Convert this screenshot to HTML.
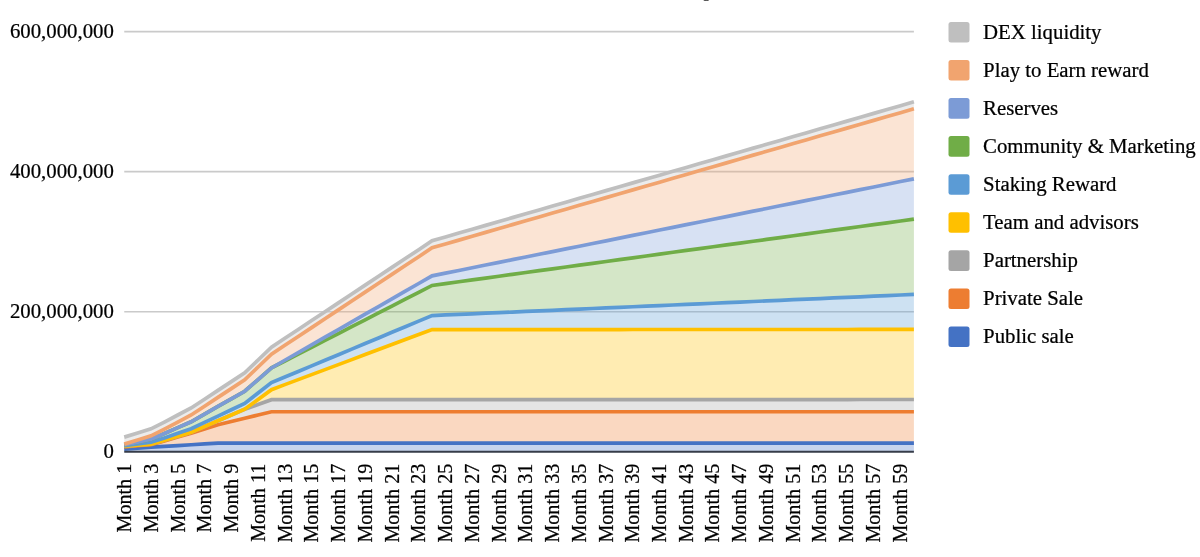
<!DOCTYPE html>
<html><head><meta charset="utf-8"><title>Token release schedule</title>
<style>
html,body{margin:0;padding:0;background:#fff;}
body{width:1200px;height:557px;overflow:hidden;}
svg{display:block;font-family:"Liberation Serif","Times New Roman",serif;font-size:20.8px;fill:#000;}
text{stroke:#000;stroke-width:0.24px;}
</style></head><body>
<svg width="1200" height="557" viewBox="0 0 1200 557">
<rect width="1200" height="557" fill="#fff"/>
<text x="710.4" y="-5.1" text-anchor="middle" font-size="29" font-weight="bold" fill="#666" stroke="none">y</text>
<line x1="124.25" x2="913.90" y1="311.75" y2="311.75" stroke="#cacaca" stroke-width="1.7"/>
<line x1="124.25" x2="913.90" y1="171.65" y2="171.65" stroke="#cacaca" stroke-width="1.7"/>
<line x1="124.25" x2="913.90" y1="31.55" y2="31.55" stroke="#cacaca" stroke-width="1.7"/>
<text x="113.9" y="458.10" text-anchor="end">0</text>
<text x="113.9" y="318.00" text-anchor="end">200,000,000</text>
<text x="113.9" y="177.90" text-anchor="end">400,000,000</text>
<text x="113.9" y="37.80" text-anchor="end">600,000,000</text>
<polygon points="124.25,449.25 137.63,448.20 151.02,447.15 164.40,446.35 177.79,445.55 191.17,444.75 204.55,443.95 217.94,443.15 231.32,443.15 244.71,443.15 258.09,443.15 271.47,443.15 284.86,443.15 298.24,443.15 311.62,443.15 325.01,443.15 338.39,443.15 351.78,443.15 365.16,443.15 378.54,443.15 391.93,443.15 405.31,443.15 418.70,443.15 432.08,443.15 445.46,443.15 458.85,443.15 472.23,443.15 485.62,443.15 499.00,443.15 512.38,443.15 525.77,443.15 539.15,443.15 552.53,443.15 565.92,443.15 579.30,443.15 592.69,443.15 606.07,443.15 619.45,443.15 632.84,443.15 646.22,443.15 659.61,443.15 672.99,443.15 686.37,443.15 699.76,443.15 713.14,443.15 726.53,443.15 739.91,443.15 753.29,443.15 766.68,443.15 780.06,443.15 793.44,443.15 806.83,443.15 820.21,443.15 833.60,443.15 846.98,443.15 860.36,443.15 873.75,443.15 887.13,443.15 900.52,443.15 913.90,443.15 913.90,452.05 900.52,452.05 887.13,452.05 873.75,452.05 860.36,452.05 846.98,452.05 833.60,452.05 820.21,452.05 806.83,452.05 793.44,452.05 780.06,452.05 766.68,452.05 753.29,452.05 739.91,452.05 726.53,452.05 713.14,452.05 699.76,452.05 686.37,452.05 672.99,452.05 659.61,452.05 646.22,452.05 632.84,452.05 619.45,452.05 606.07,452.05 592.69,452.05 579.30,452.05 565.92,452.05 552.53,452.05 539.15,452.05 525.77,452.05 512.38,452.05 499.00,452.05 485.62,452.05 472.23,452.05 458.85,452.05 445.46,452.05 432.08,452.05 418.70,452.05 405.31,452.05 391.93,452.05 378.54,452.05 365.16,452.05 351.78,452.05 338.39,452.05 325.01,452.05 311.62,452.05 298.24,452.05 284.86,452.05 271.47,452.05 258.09,452.05 244.71,452.05 231.32,452.05 217.94,452.05 204.55,452.05 191.17,452.05 177.79,452.05 164.40,452.05 151.02,452.05 137.63,452.05 124.25,452.05" fill="#4472C4" fill-opacity="0.3"/>
<polygon points="124.25,446.87 137.63,445.78 151.02,444.69 164.40,440.88 177.79,437.07 191.17,433.26 204.55,428.96 217.94,424.66 231.32,421.44 244.71,418.22 258.09,414.99 271.47,411.77 284.86,411.77 298.24,411.77 311.62,411.77 325.01,411.77 338.39,411.77 351.78,411.77 365.16,411.77 378.54,411.77 391.93,411.77 405.31,411.77 418.70,411.77 432.08,411.77 445.46,411.77 458.85,411.77 472.23,411.77 485.62,411.77 499.00,411.77 512.38,411.77 525.77,411.77 539.15,411.77 552.53,411.77 565.92,411.77 579.30,411.77 592.69,411.77 606.07,411.77 619.45,411.77 632.84,411.77 646.22,411.77 659.61,411.77 672.99,411.77 686.37,411.77 699.76,411.77 713.14,411.77 726.53,411.77 739.91,411.77 753.29,411.77 766.68,411.77 780.06,411.77 793.44,411.77 806.83,411.77 820.21,411.77 833.60,411.77 846.98,411.77 860.36,411.77 873.75,411.77 887.13,411.77 900.52,411.77 913.90,411.77 913.90,443.15 900.52,443.15 887.13,443.15 873.75,443.15 860.36,443.15 846.98,443.15 833.60,443.15 820.21,443.15 806.83,443.15 793.44,443.15 780.06,443.15 766.68,443.15 753.29,443.15 739.91,443.15 726.53,443.15 713.14,443.15 699.76,443.15 686.37,443.15 672.99,443.15 659.61,443.15 646.22,443.15 632.84,443.15 619.45,443.15 606.07,443.15 592.69,443.15 579.30,443.15 565.92,443.15 552.53,443.15 539.15,443.15 525.77,443.15 512.38,443.15 499.00,443.15 485.62,443.15 472.23,443.15 458.85,443.15 445.46,443.15 432.08,443.15 418.70,443.15 405.31,443.15 391.93,443.15 378.54,443.15 365.16,443.15 351.78,443.15 338.39,443.15 325.01,443.15 311.62,443.15 298.24,443.15 284.86,443.15 271.47,443.15 258.09,443.15 244.71,443.15 231.32,443.15 217.94,443.15 204.55,443.95 191.17,444.75 177.79,445.55 164.40,446.35 151.02,447.15 137.63,448.20 124.25,449.25" fill="#ED7D31" fill-opacity="0.3"/>
<polygon points="124.25,446.24 137.63,445.15 151.02,444.06 164.40,440.25 177.79,436.27 191.17,432.28 204.55,426.51 217.94,420.74 231.32,414.99 244.71,409.25 258.09,404.45 271.47,399.65 284.86,399.65 298.24,399.65 311.62,399.64 325.01,399.64 338.39,399.64 351.78,399.64 365.16,399.63 378.54,399.63 391.93,399.63 405.31,399.62 418.70,399.62 432.08,399.62 445.46,399.61 458.85,399.61 472.23,399.61 485.62,399.61 499.00,399.60 512.38,399.60 525.77,399.60 539.15,399.59 552.53,399.59 565.92,399.59 579.30,399.59 592.69,399.58 606.07,399.58 619.45,399.58 632.84,399.57 646.22,399.57 659.61,399.57 672.99,399.57 686.37,399.56 699.76,399.56 713.14,399.56 726.53,399.55 739.91,399.55 753.29,399.55 766.68,399.54 780.06,399.54 793.44,399.54 806.83,399.54 820.21,399.53 833.60,399.53 846.98,399.53 860.36,399.52 873.75,399.52 887.13,399.52 900.52,399.52 913.90,399.51 913.90,411.77 900.52,411.77 887.13,411.77 873.75,411.77 860.36,411.77 846.98,411.77 833.60,411.77 820.21,411.77 806.83,411.77 793.44,411.77 780.06,411.77 766.68,411.77 753.29,411.77 739.91,411.77 726.53,411.77 713.14,411.77 699.76,411.77 686.37,411.77 672.99,411.77 659.61,411.77 646.22,411.77 632.84,411.77 619.45,411.77 606.07,411.77 592.69,411.77 579.30,411.77 565.92,411.77 552.53,411.77 539.15,411.77 525.77,411.77 512.38,411.77 499.00,411.77 485.62,411.77 472.23,411.77 458.85,411.77 445.46,411.77 432.08,411.77 418.70,411.77 405.31,411.77 391.93,411.77 378.54,411.77 365.16,411.77 351.78,411.77 338.39,411.77 325.01,411.77 311.62,411.77 298.24,411.77 284.86,411.77 271.47,411.77 258.09,414.99 244.71,418.22 231.32,421.44 217.94,424.66 204.55,428.96 191.17,433.26 177.79,437.07 164.40,440.88 151.02,444.69 137.63,445.78 124.25,446.87" fill="#A5A5A5" fill-opacity="0.3"/>
<polygon points="124.25,446.24 137.63,445.15 151.02,444.06 164.40,440.25 177.79,436.27 191.17,432.28 204.55,426.51 217.94,420.74 231.32,414.99 244.71,409.25 258.09,399.45 271.47,389.65 284.86,384.64 298.24,379.63 311.62,374.63 325.01,369.62 338.39,364.61 351.78,359.61 365.16,354.60 378.54,349.59 391.93,344.59 405.31,339.58 418.70,334.57 432.08,329.57 445.46,329.56 458.85,329.56 472.23,329.56 485.62,329.56 499.00,329.55 512.38,329.55 525.77,329.55 539.15,329.54 552.53,329.54 565.92,329.54 579.30,329.54 592.69,329.53 606.07,329.53 619.45,329.53 632.84,329.52 646.22,329.52 659.61,329.52 672.99,329.52 686.37,329.51 699.76,329.51 713.14,329.51 726.53,329.50 739.91,329.50 753.29,329.50 766.68,329.49 780.06,329.49 793.44,329.49 806.83,329.49 820.21,329.48 833.60,329.48 846.98,329.48 860.36,329.47 873.75,329.47 887.13,329.47 900.52,329.47 913.90,329.46 913.90,399.51 900.52,399.52 887.13,399.52 873.75,399.52 860.36,399.52 846.98,399.53 833.60,399.53 820.21,399.53 806.83,399.54 793.44,399.54 780.06,399.54 766.68,399.54 753.29,399.55 739.91,399.55 726.53,399.55 713.14,399.56 699.76,399.56 686.37,399.56 672.99,399.57 659.61,399.57 646.22,399.57 632.84,399.57 619.45,399.58 606.07,399.58 592.69,399.58 579.30,399.59 565.92,399.59 552.53,399.59 539.15,399.59 525.77,399.60 512.38,399.60 499.00,399.60 485.62,399.61 472.23,399.61 458.85,399.61 445.46,399.61 432.08,399.62 418.70,399.62 405.31,399.62 391.93,399.63 378.54,399.63 365.16,399.63 351.78,399.64 338.39,399.64 325.01,399.64 311.62,399.64 298.24,399.65 284.86,399.65 271.47,399.65 258.09,404.45 244.71,409.25 231.32,414.99 217.94,420.74 204.55,426.51 191.17,432.28 177.79,436.27 164.40,440.25 151.02,444.06 137.63,445.15 124.25,446.24" fill="#FFC000" fill-opacity="0.3"/>
<polygon points="124.25,445.65 137.63,443.98 151.02,442.31 164.40,437.92 177.79,433.35 191.17,428.78 204.55,422.42 217.94,416.07 231.32,409.74 244.71,403.41 258.09,393.03 271.47,382.64 284.86,377.05 298.24,371.46 311.62,365.87 325.01,360.28 338.39,354.69 351.78,349.10 365.16,343.51 378.54,337.92 391.93,332.33 405.31,326.74 418.70,321.15 432.08,315.56 445.46,314.97 458.85,314.38 472.23,313.80 485.62,313.21 499.00,312.62 512.38,312.04 525.77,311.45 539.15,310.86 552.53,310.28 565.92,309.69 579.30,309.10 592.69,308.52 606.07,307.93 619.45,307.34 632.84,306.76 646.22,306.17 659.61,305.58 672.99,305.00 686.37,304.41 699.76,303.82 713.14,303.24 726.53,302.65 739.91,302.06 753.29,301.48 766.68,300.89 780.06,300.30 793.44,299.72 806.83,299.13 820.21,298.54 833.60,297.96 846.98,297.37 860.36,296.78 873.75,296.20 887.13,295.61 900.52,295.02 913.90,294.44 913.90,329.46 900.52,329.47 887.13,329.47 873.75,329.47 860.36,329.47 846.98,329.48 833.60,329.48 820.21,329.48 806.83,329.49 793.44,329.49 780.06,329.49 766.68,329.49 753.29,329.50 739.91,329.50 726.53,329.50 713.14,329.51 699.76,329.51 686.37,329.51 672.99,329.52 659.61,329.52 646.22,329.52 632.84,329.52 619.45,329.53 606.07,329.53 592.69,329.53 579.30,329.54 565.92,329.54 552.53,329.54 539.15,329.54 525.77,329.55 512.38,329.55 499.00,329.55 485.62,329.56 472.23,329.56 458.85,329.56 445.46,329.56 432.08,329.57 418.70,334.57 405.31,339.58 391.93,344.59 378.54,349.59 365.16,354.60 351.78,359.61 338.39,364.61 325.01,369.62 311.62,374.63 298.24,379.63 284.86,384.64 271.47,389.65 258.09,399.45 244.71,409.25 231.32,414.99 217.94,420.74 204.55,426.51 191.17,432.28 177.79,436.27 164.40,440.25 151.02,444.06 137.63,445.15 124.25,446.24" fill="#5B9BD5" fill-opacity="0.3"/>
<polygon points="124.25,445.02 137.63,442.07 151.02,439.12 164.40,433.44 177.79,427.59 191.17,421.74 204.55,414.10 217.94,406.46 231.32,398.85 244.71,391.24 258.09,379.57 271.47,367.91 284.86,361.03 298.24,354.16 311.62,347.29 325.01,340.42 338.39,333.54 351.78,326.67 365.16,319.80 378.54,312.93 391.93,306.05 405.31,299.18 418.70,292.31 432.08,285.44 445.46,283.59 458.85,281.75 472.23,279.91 485.62,278.07 499.00,276.23 512.38,274.39 525.77,272.54 539.15,270.70 552.53,268.86 565.92,267.02 579.30,265.18 592.69,263.34 606.07,261.49 619.45,259.65 632.84,257.81 646.22,255.97 659.61,254.13 672.99,252.28 686.37,250.44 699.76,248.60 713.14,246.76 726.53,244.92 739.91,243.08 753.29,241.23 766.68,239.39 780.06,237.55 793.44,235.71 806.83,233.87 820.21,232.03 833.60,230.18 846.98,228.34 860.36,226.50 873.75,224.66 887.13,222.82 900.52,220.98 913.90,219.13 913.90,294.44 900.52,295.02 887.13,295.61 873.75,296.20 860.36,296.78 846.98,297.37 833.60,297.96 820.21,298.54 806.83,299.13 793.44,299.72 780.06,300.30 766.68,300.89 753.29,301.48 739.91,302.06 726.53,302.65 713.14,303.24 699.76,303.82 686.37,304.41 672.99,305.00 659.61,305.58 646.22,306.17 632.84,306.76 619.45,307.34 606.07,307.93 592.69,308.52 579.30,309.10 565.92,309.69 552.53,310.28 539.15,310.86 525.77,311.45 512.38,312.04 499.00,312.62 485.62,313.21 472.23,313.80 458.85,314.38 445.46,314.97 432.08,315.56 418.70,321.15 405.31,326.74 391.93,332.33 378.54,337.92 365.16,343.51 351.78,349.10 338.39,354.69 325.01,360.28 311.62,365.87 298.24,371.46 284.86,377.05 271.47,382.64 258.09,393.03 244.71,403.41 231.32,409.74 217.94,416.07 204.55,422.42 191.17,428.78 177.79,433.35 164.40,437.92 151.02,442.31 137.63,443.98 124.25,445.65" fill="#70AD47" fill-opacity="0.3"/>
<polygon points="124.25,445.02 137.63,442.07 151.02,439.12 164.40,433.44 177.79,427.59 191.17,421.74 204.55,414.10 217.94,406.46 231.32,398.85 244.71,391.24 258.09,379.57 271.47,367.91 284.86,360.23 298.24,352.56 311.62,344.89 325.01,337.22 338.39,329.54 351.78,321.87 365.16,314.20 378.54,306.53 391.93,298.86 405.31,291.18 418.70,283.51 432.08,275.84 445.46,273.15 458.85,270.45 472.23,267.76 485.62,265.06 499.00,262.37 512.38,259.68 525.77,256.98 539.15,254.29 552.53,251.59 565.92,248.90 579.30,246.21 592.69,243.51 606.07,240.82 619.45,238.12 632.84,235.43 646.22,232.74 659.61,230.04 672.99,227.35 686.37,224.65 699.76,221.96 713.14,219.27 726.53,216.57 739.91,213.88 753.29,211.18 766.68,208.49 780.06,205.80 793.44,203.10 806.83,200.41 820.21,197.71 833.60,195.02 846.98,192.33 860.36,189.63 873.75,186.94 887.13,184.24 900.52,181.55 913.90,178.86 913.90,219.13 900.52,220.98 887.13,222.82 873.75,224.66 860.36,226.50 846.98,228.34 833.60,230.18 820.21,232.03 806.83,233.87 793.44,235.71 780.06,237.55 766.68,239.39 753.29,241.23 739.91,243.08 726.53,244.92 713.14,246.76 699.76,248.60 686.37,250.44 672.99,252.28 659.61,254.13 646.22,255.97 632.84,257.81 619.45,259.65 606.07,261.49 592.69,263.34 579.30,265.18 565.92,267.02 552.53,268.86 539.15,270.70 525.77,272.54 512.38,274.39 499.00,276.23 485.62,278.07 472.23,279.91 458.85,281.75 445.46,283.59 432.08,285.44 418.70,292.31 405.31,299.18 391.93,306.05 378.54,312.93 365.16,319.80 351.78,326.67 338.39,333.54 325.01,340.42 311.62,347.29 298.24,354.16 284.86,361.03 271.47,367.91 258.09,379.57 244.71,391.24 231.32,398.85 217.94,406.46 204.55,414.10 191.17,421.74 177.79,427.59 164.40,433.44 151.02,439.12 137.63,442.07 124.25,445.02" fill="#7C9BD6" fill-opacity="0.3"/>
<polygon points="124.25,444.11 137.63,439.99 151.02,435.88 164.40,429.03 177.79,422.02 191.17,415.00 204.55,406.20 217.94,397.39 231.32,388.62 244.71,379.84 258.09,367.01 271.47,354.18 284.86,345.31 298.24,336.45 311.62,327.59 325.01,318.72 338.39,309.86 351.78,301.00 365.16,292.13 378.54,283.27 391.93,274.41 405.31,265.55 418.70,256.68 432.08,247.82 445.46,243.96 458.85,240.10 472.23,236.23 485.62,232.37 499.00,228.51 512.38,224.65 525.77,220.79 539.15,216.93 552.53,213.07 565.92,209.20 579.30,205.34 592.69,201.48 606.07,197.62 619.45,193.76 632.84,189.90 646.22,186.04 659.61,182.17 672.99,178.31 686.37,174.45 699.76,170.59 713.14,166.73 726.53,162.87 739.91,159.00 753.29,155.14 766.68,151.28 780.06,147.42 793.44,143.56 806.83,139.70 820.21,135.84 833.60,131.97 846.98,128.11 860.36,124.25 873.75,120.39 887.13,116.53 900.52,112.67 913.90,108.81 913.90,178.86 900.52,181.55 887.13,184.24 873.75,186.94 860.36,189.63 846.98,192.33 833.60,195.02 820.21,197.71 806.83,200.41 793.44,203.10 780.06,205.80 766.68,208.49 753.29,211.18 739.91,213.88 726.53,216.57 713.14,219.27 699.76,221.96 686.37,224.65 672.99,227.35 659.61,230.04 646.22,232.74 632.84,235.43 619.45,238.12 606.07,240.82 592.69,243.51 579.30,246.21 565.92,248.90 552.53,251.59 539.15,254.29 525.77,256.98 512.38,259.68 499.00,262.37 485.62,265.06 472.23,267.76 458.85,270.45 445.46,273.15 432.08,275.84 418.70,283.51 405.31,291.18 391.93,298.86 378.54,306.53 365.16,314.20 351.78,321.87 338.39,329.54 325.01,337.22 311.62,344.89 298.24,352.56 284.86,360.23 271.47,367.91 258.09,379.57 244.71,391.24 231.32,398.85 217.94,406.46 204.55,414.10 191.17,421.74 177.79,427.59 164.40,433.44 151.02,439.12 137.63,442.07 124.25,445.02" fill="#F1A46F" fill-opacity="0.3"/>
<polygon points="124.25,437.11 137.63,432.99 151.02,428.87 164.40,422.03 177.79,415.01 191.17,408.00 204.55,399.19 217.94,390.39 231.32,381.61 244.71,372.84 258.09,360.00 271.47,347.17 284.86,338.31 298.24,329.44 311.62,320.58 325.01,311.72 338.39,302.86 351.78,293.99 365.16,285.13 378.54,276.27 391.93,267.40 405.31,258.54 418.70,249.68 432.08,240.81 445.46,236.95 458.85,233.09 472.23,229.23 485.62,225.37 499.00,221.51 512.38,217.65 525.77,213.78 539.15,209.92 552.53,206.06 565.92,202.20 579.30,198.34 592.69,194.48 606.07,190.61 619.45,186.75 632.84,182.89 646.22,179.03 659.61,175.17 672.99,171.31 686.37,167.45 699.76,163.58 713.14,159.72 726.53,155.86 739.91,152.00 753.29,148.14 766.68,144.28 780.06,140.42 793.44,136.55 806.83,132.69 820.21,128.83 833.60,124.97 846.98,121.11 860.36,117.25 873.75,113.38 887.13,109.52 900.52,105.66 913.90,101.80 913.90,108.81 900.52,112.67 887.13,116.53 873.75,120.39 860.36,124.25 846.98,128.11 833.60,131.97 820.21,135.84 806.83,139.70 793.44,143.56 780.06,147.42 766.68,151.28 753.29,155.14 739.91,159.00 726.53,162.87 713.14,166.73 699.76,170.59 686.37,174.45 672.99,178.31 659.61,182.17 646.22,186.04 632.84,189.90 619.45,193.76 606.07,197.62 592.69,201.48 579.30,205.34 565.92,209.20 552.53,213.07 539.15,216.93 525.77,220.79 512.38,224.65 499.00,228.51 485.62,232.37 472.23,236.23 458.85,240.10 445.46,243.96 432.08,247.82 418.70,256.68 405.31,265.55 391.93,274.41 378.54,283.27 365.16,292.13 351.78,301.00 338.39,309.86 325.01,318.72 311.62,327.59 298.24,336.45 284.86,345.31 271.47,354.18 258.09,367.01 244.71,379.84 231.32,388.62 217.94,397.39 204.55,406.20 191.17,415.00 177.79,422.02 164.40,429.03 151.02,435.88 137.63,439.99 124.25,444.11" fill="#BFBFBF" fill-opacity="0.3"/>
<polyline points="124.25,449.25 137.63,448.20 151.02,447.15 164.40,446.35 177.79,445.55 191.17,444.75 204.55,443.95 217.94,443.15 231.32,443.15 244.71,443.15 258.09,443.15 271.47,443.15 284.86,443.15 298.24,443.15 311.62,443.15 325.01,443.15 338.39,443.15 351.78,443.15 365.16,443.15 378.54,443.15 391.93,443.15 405.31,443.15 418.70,443.15 432.08,443.15 445.46,443.15 458.85,443.15 472.23,443.15 485.62,443.15 499.00,443.15 512.38,443.15 525.77,443.15 539.15,443.15 552.53,443.15 565.92,443.15 579.30,443.15 592.69,443.15 606.07,443.15 619.45,443.15 632.84,443.15 646.22,443.15 659.61,443.15 672.99,443.15 686.37,443.15 699.76,443.15 713.14,443.15 726.53,443.15 739.91,443.15 753.29,443.15 766.68,443.15 780.06,443.15 793.44,443.15 806.83,443.15 820.21,443.15 833.60,443.15 846.98,443.15 860.36,443.15 873.75,443.15 887.13,443.15 900.52,443.15 913.90,443.15" fill="none" stroke="#4472C4" stroke-width="3.7" stroke-linejoin="miter"/>
<polyline points="124.25,446.87 137.63,445.78 151.02,444.69 164.40,440.88 177.79,437.07 191.17,433.26 204.55,428.96 217.94,424.66 231.32,421.44 244.71,418.22 258.09,414.99 271.47,411.77 284.86,411.77 298.24,411.77 311.62,411.77 325.01,411.77 338.39,411.77 351.78,411.77 365.16,411.77 378.54,411.77 391.93,411.77 405.31,411.77 418.70,411.77 432.08,411.77 445.46,411.77 458.85,411.77 472.23,411.77 485.62,411.77 499.00,411.77 512.38,411.77 525.77,411.77 539.15,411.77 552.53,411.77 565.92,411.77 579.30,411.77 592.69,411.77 606.07,411.77 619.45,411.77 632.84,411.77 646.22,411.77 659.61,411.77 672.99,411.77 686.37,411.77 699.76,411.77 713.14,411.77 726.53,411.77 739.91,411.77 753.29,411.77 766.68,411.77 780.06,411.77 793.44,411.77 806.83,411.77 820.21,411.77 833.60,411.77 846.98,411.77 860.36,411.77 873.75,411.77 887.13,411.77 900.52,411.77 913.90,411.77" fill="none" stroke="#ED7D31" stroke-width="3.7" stroke-linejoin="miter"/>
<polyline points="124.25,446.24 137.63,445.15 151.02,444.06 164.40,440.25 177.79,436.27 191.17,432.28 204.55,426.51 217.94,420.74 231.32,414.99 244.71,409.25 258.09,404.45 271.47,399.65 284.86,399.65 298.24,399.65 311.62,399.64 325.01,399.64 338.39,399.64 351.78,399.64 365.16,399.63 378.54,399.63 391.93,399.63 405.31,399.62 418.70,399.62 432.08,399.62 445.46,399.61 458.85,399.61 472.23,399.61 485.62,399.61 499.00,399.60 512.38,399.60 525.77,399.60 539.15,399.59 552.53,399.59 565.92,399.59 579.30,399.59 592.69,399.58 606.07,399.58 619.45,399.58 632.84,399.57 646.22,399.57 659.61,399.57 672.99,399.57 686.37,399.56 699.76,399.56 713.14,399.56 726.53,399.55 739.91,399.55 753.29,399.55 766.68,399.54 780.06,399.54 793.44,399.54 806.83,399.54 820.21,399.53 833.60,399.53 846.98,399.53 860.36,399.52 873.75,399.52 887.13,399.52 900.52,399.52 913.90,399.51" fill="none" stroke="#A5A5A5" stroke-width="3.7" stroke-linejoin="miter"/>
<polyline points="124.25,446.24 137.63,445.15 151.02,444.06 164.40,440.25 177.79,436.27 191.17,432.28 204.55,426.51 217.94,420.74 231.32,414.99 244.71,409.25 258.09,399.45 271.47,389.65 284.86,384.64 298.24,379.63 311.62,374.63 325.01,369.62 338.39,364.61 351.78,359.61 365.16,354.60 378.54,349.59 391.93,344.59 405.31,339.58 418.70,334.57 432.08,329.57 445.46,329.56 458.85,329.56 472.23,329.56 485.62,329.56 499.00,329.55 512.38,329.55 525.77,329.55 539.15,329.54 552.53,329.54 565.92,329.54 579.30,329.54 592.69,329.53 606.07,329.53 619.45,329.53 632.84,329.52 646.22,329.52 659.61,329.52 672.99,329.52 686.37,329.51 699.76,329.51 713.14,329.51 726.53,329.50 739.91,329.50 753.29,329.50 766.68,329.49 780.06,329.49 793.44,329.49 806.83,329.49 820.21,329.48 833.60,329.48 846.98,329.48 860.36,329.47 873.75,329.47 887.13,329.47 900.52,329.47 913.90,329.46" fill="none" stroke="#FFC000" stroke-width="3.7" stroke-linejoin="miter"/>
<polyline points="124.25,445.65 137.63,443.98 151.02,442.31 164.40,437.92 177.79,433.35 191.17,428.78 204.55,422.42 217.94,416.07 231.32,409.74 244.71,403.41 258.09,393.03 271.47,382.64 284.86,377.05 298.24,371.46 311.62,365.87 325.01,360.28 338.39,354.69 351.78,349.10 365.16,343.51 378.54,337.92 391.93,332.33 405.31,326.74 418.70,321.15 432.08,315.56 445.46,314.97 458.85,314.38 472.23,313.80 485.62,313.21 499.00,312.62 512.38,312.04 525.77,311.45 539.15,310.86 552.53,310.28 565.92,309.69 579.30,309.10 592.69,308.52 606.07,307.93 619.45,307.34 632.84,306.76 646.22,306.17 659.61,305.58 672.99,305.00 686.37,304.41 699.76,303.82 713.14,303.24 726.53,302.65 739.91,302.06 753.29,301.48 766.68,300.89 780.06,300.30 793.44,299.72 806.83,299.13 820.21,298.54 833.60,297.96 846.98,297.37 860.36,296.78 873.75,296.20 887.13,295.61 900.52,295.02 913.90,294.44" fill="none" stroke="#5B9BD5" stroke-width="3.7" stroke-linejoin="miter"/>
<polyline points="124.25,445.02 137.63,442.07 151.02,439.12 164.40,433.44 177.79,427.59 191.17,421.74 204.55,414.10 217.94,406.46 231.32,398.85 244.71,391.24 258.09,379.57 271.47,367.91 284.86,361.03 298.24,354.16 311.62,347.29 325.01,340.42 338.39,333.54 351.78,326.67 365.16,319.80 378.54,312.93 391.93,306.05 405.31,299.18 418.70,292.31 432.08,285.44 445.46,283.59 458.85,281.75 472.23,279.91 485.62,278.07 499.00,276.23 512.38,274.39 525.77,272.54 539.15,270.70 552.53,268.86 565.92,267.02 579.30,265.18 592.69,263.34 606.07,261.49 619.45,259.65 632.84,257.81 646.22,255.97 659.61,254.13 672.99,252.28 686.37,250.44 699.76,248.60 713.14,246.76 726.53,244.92 739.91,243.08 753.29,241.23 766.68,239.39 780.06,237.55 793.44,235.71 806.83,233.87 820.21,232.03 833.60,230.18 846.98,228.34 860.36,226.50 873.75,224.66 887.13,222.82 900.52,220.98 913.90,219.13" fill="none" stroke="#70AD47" stroke-width="3.7" stroke-linejoin="miter"/>
<polyline points="124.25,445.02 137.63,442.07 151.02,439.12 164.40,433.44 177.79,427.59 191.17,421.74 204.55,414.10 217.94,406.46 231.32,398.85 244.71,391.24 258.09,379.57 271.47,367.91 284.86,360.23 298.24,352.56 311.62,344.89 325.01,337.22 338.39,329.54 351.78,321.87 365.16,314.20 378.54,306.53 391.93,298.86 405.31,291.18 418.70,283.51 432.08,275.84 445.46,273.15 458.85,270.45 472.23,267.76 485.62,265.06 499.00,262.37 512.38,259.68 525.77,256.98 539.15,254.29 552.53,251.59 565.92,248.90 579.30,246.21 592.69,243.51 606.07,240.82 619.45,238.12 632.84,235.43 646.22,232.74 659.61,230.04 672.99,227.35 686.37,224.65 699.76,221.96 713.14,219.27 726.53,216.57 739.91,213.88 753.29,211.18 766.68,208.49 780.06,205.80 793.44,203.10 806.83,200.41 820.21,197.71 833.60,195.02 846.98,192.33 860.36,189.63 873.75,186.94 887.13,184.24 900.52,181.55 913.90,178.86" fill="none" stroke="#7C9BD6" stroke-width="3.7" stroke-linejoin="miter"/>
<polyline points="124.25,444.11 137.63,439.99 151.02,435.88 164.40,429.03 177.79,422.02 191.17,415.00 204.55,406.20 217.94,397.39 231.32,388.62 244.71,379.84 258.09,367.01 271.47,354.18 284.86,345.31 298.24,336.45 311.62,327.59 325.01,318.72 338.39,309.86 351.78,301.00 365.16,292.13 378.54,283.27 391.93,274.41 405.31,265.55 418.70,256.68 432.08,247.82 445.46,243.96 458.85,240.10 472.23,236.23 485.62,232.37 499.00,228.51 512.38,224.65 525.77,220.79 539.15,216.93 552.53,213.07 565.92,209.20 579.30,205.34 592.69,201.48 606.07,197.62 619.45,193.76 632.84,189.90 646.22,186.04 659.61,182.17 672.99,178.31 686.37,174.45 699.76,170.59 713.14,166.73 726.53,162.87 739.91,159.00 753.29,155.14 766.68,151.28 780.06,147.42 793.44,143.56 806.83,139.70 820.21,135.84 833.60,131.97 846.98,128.11 860.36,124.25 873.75,120.39 887.13,116.53 900.52,112.67 913.90,108.81" fill="none" stroke="#F1A46F" stroke-width="3.7" stroke-linejoin="miter"/>
<polyline points="124.25,437.11 137.63,432.99 151.02,428.87 164.40,422.03 177.79,415.01 191.17,408.00 204.55,399.19 217.94,390.39 231.32,381.61 244.71,372.84 258.09,360.00 271.47,347.17 284.86,338.31 298.24,329.44 311.62,320.58 325.01,311.72 338.39,302.86 351.78,293.99 365.16,285.13 378.54,276.27 391.93,267.40 405.31,258.54 418.70,249.68 432.08,240.81 445.46,236.95 458.85,233.09 472.23,229.23 485.62,225.37 499.00,221.51 512.38,217.65 525.77,213.78 539.15,209.92 552.53,206.06 565.92,202.20 579.30,198.34 592.69,194.48 606.07,190.61 619.45,186.75 632.84,182.89 646.22,179.03 659.61,175.17 672.99,171.31 686.37,167.45 699.76,163.58 713.14,159.72 726.53,155.86 739.91,152.00 753.29,148.14 766.68,144.28 780.06,140.42 793.44,136.55 806.83,132.69 820.21,128.83 833.60,124.97 846.98,121.11 860.36,117.25 873.75,113.38 887.13,109.52 900.52,105.66 913.90,101.80" fill="none" stroke="#BFBFBF" stroke-width="3.7" stroke-linejoin="miter"/>
<line x1="124.25" x2="913.90" y1="451.70" y2="451.70" stroke="#363c49" stroke-width="2"/>
<text transform="translate(131.05,463.7) rotate(-90)" text-anchor="end" font-size="20.15">Month 1</text>
<text transform="translate(157.80,463.7) rotate(-90)" text-anchor="end" font-size="20.15">Month 3</text>
<text transform="translate(184.54,463.7) rotate(-90)" text-anchor="end" font-size="20.15">Month 5</text>
<text transform="translate(211.29,463.7) rotate(-90)" text-anchor="end" font-size="20.15">Month 7</text>
<text transform="translate(238.04,463.7) rotate(-90)" text-anchor="end" font-size="20.15">Month 9</text>
<text transform="translate(264.79,463.7) rotate(-90)" text-anchor="end" font-size="20.15">Month 11</text>
<text transform="translate(291.53,463.7) rotate(-90)" text-anchor="end" font-size="20.15">Month 13</text>
<text transform="translate(318.28,463.7) rotate(-90)" text-anchor="end" font-size="20.15">Month 15</text>
<text transform="translate(345.03,463.7) rotate(-90)" text-anchor="end" font-size="20.15">Month 17</text>
<text transform="translate(371.77,463.7) rotate(-90)" text-anchor="end" font-size="20.15">Month 19</text>
<text transform="translate(398.52,463.7) rotate(-90)" text-anchor="end" font-size="20.15">Month 21</text>
<text transform="translate(425.27,463.7) rotate(-90)" text-anchor="end" font-size="20.15">Month 23</text>
<text transform="translate(452.02,463.7) rotate(-90)" text-anchor="end" font-size="20.15">Month 25</text>
<text transform="translate(478.76,463.7) rotate(-90)" text-anchor="end" font-size="20.15">Month 27</text>
<text transform="translate(505.51,463.7) rotate(-90)" text-anchor="end" font-size="20.15">Month 29</text>
<text transform="translate(532.26,463.7) rotate(-90)" text-anchor="end" font-size="20.15">Month 31</text>
<text transform="translate(559.00,463.7) rotate(-90)" text-anchor="end" font-size="20.15">Month 33</text>
<text transform="translate(585.75,463.7) rotate(-90)" text-anchor="end" font-size="20.15">Month 35</text>
<text transform="translate(612.50,463.7) rotate(-90)" text-anchor="end" font-size="20.15">Month 37</text>
<text transform="translate(639.25,463.7) rotate(-90)" text-anchor="end" font-size="20.15">Month 39</text>
<text transform="translate(665.99,463.7) rotate(-90)" text-anchor="end" font-size="20.15">Month 41</text>
<text transform="translate(692.74,463.7) rotate(-90)" text-anchor="end" font-size="20.15">Month 43</text>
<text transform="translate(719.49,463.7) rotate(-90)" text-anchor="end" font-size="20.15">Month 45</text>
<text transform="translate(746.23,463.7) rotate(-90)" text-anchor="end" font-size="20.15">Month 47</text>
<text transform="translate(772.98,463.7) rotate(-90)" text-anchor="end" font-size="20.15">Month 49</text>
<text transform="translate(799.73,463.7) rotate(-90)" text-anchor="end" font-size="20.15">Month 51</text>
<text transform="translate(826.47,463.7) rotate(-90)" text-anchor="end" font-size="20.15">Month 53</text>
<text transform="translate(853.22,463.7) rotate(-90)" text-anchor="end" font-size="20.15">Month 55</text>
<text transform="translate(879.97,463.7) rotate(-90)" text-anchor="end" font-size="20.15">Month 57</text>
<text transform="translate(906.72,463.7) rotate(-90)" text-anchor="end" font-size="20.15">Month 59</text>
<rect x="948.5" y="22.0" width="21" height="20.6" rx="2.5" fill="#BFBFBF"/>
<text x="983.1" y="38.6">DEX liquidity</text>
<rect x="948.5" y="60.0" width="21" height="20.6" rx="2.5" fill="#F1A46F"/>
<text x="983.1" y="76.7">Play to Earn reward</text>
<rect x="948.5" y="98.1" width="21" height="20.6" rx="2.5" fill="#7C9BD6"/>
<text x="983.1" y="114.7">Reserves</text>
<rect x="948.5" y="136.1" width="21" height="20.6" rx="2.5" fill="#70AD47"/>
<text x="983.1" y="152.7">Community &amp; Marketing</text>
<rect x="948.5" y="174.2" width="21" height="20.6" rx="2.5" fill="#5B9BD5"/>
<text x="983.1" y="190.8">Staking Reward</text>
<rect x="948.5" y="212.2" width="21" height="20.6" rx="2.5" fill="#FFC000"/>
<text x="983.1" y="228.8">Team and advisors</text>
<rect x="948.5" y="250.3" width="21" height="20.6" rx="2.5" fill="#A5A5A5"/>
<text x="983.1" y="266.9">Partnership</text>
<rect x="948.5" y="288.4" width="21" height="20.6" rx="2.5" fill="#ED7D31"/>
<text x="983.1" y="305.0">Private Sale</text>
<rect x="948.5" y="326.4" width="21" height="20.6" rx="2.5" fill="#4472C4"/>
<text x="983.1" y="343.0">Public sale</text>
</svg>
</body></html>
